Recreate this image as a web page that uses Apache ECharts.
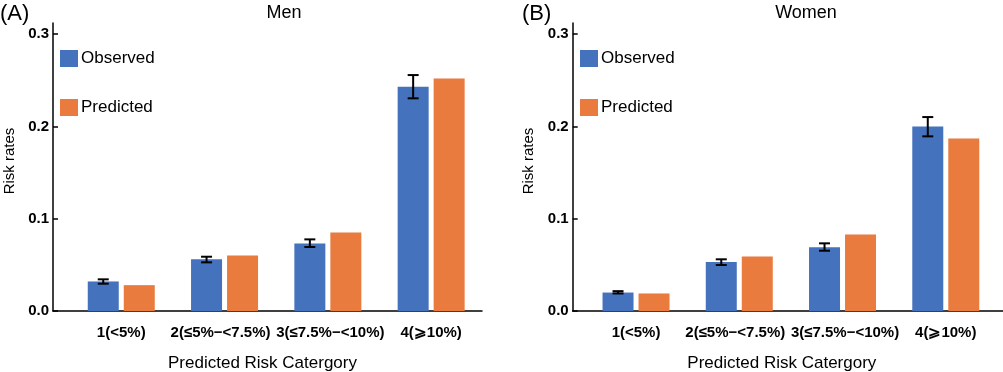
<!DOCTYPE html>
<html><head><meta charset="utf-8">
<script src="https://cdn.jsdelivr.net/npm/echarts@6/dist/echarts.min.js"></script>
<style>html,body{margin:0;padding:0;background:#fff}#c{width:1003px;height:372px}</style>
</head><body><div id="c"></div>
<script>
const categories = ['1(<5%)', '2(≤5%−<7.5%)', '3(≤7.5%−<10%)', '4(⩾10%)'];
const yTicks = [0, 0.1, 0.2, 0.3];
const menObserved = [0.032, 0.056, 0.073, 0.243];
const menPredicted = [0.028, 0.060, 0.085, 0.252];
const menObsLow = [0.0296, 0.0527, 0.0693, 0.2304];
const menObsHigh = [0.0343, 0.0588, 0.0776, 0.2556];
const womenObserved = [0.020, 0.053, 0.069, 0.200];
const womenPredicted = [0.019, 0.059, 0.083, 0.187];
const womenObsLow = [0.019, 0.0498, 0.0653, 0.1892];
const womenObsHigh = [0.0215, 0.0560, 0.0733, 0.2101];

const FONT = 'Liberation Sans, Arial, sans-serif';
const BLUE = '#4572BD', ORANGE = '#E97B3E';
const YMAX = 0.312;
const BAR_W = 31, BAR_GAP = 5;
const LABEL_PAD = [[0, 0, 0, 0], [0, 8, 0, 0], [0, 0, 0, 5], [0, 0, 0, 0]];

function errData(lo, hi) { return lo.map((v, i) => [i, v, hi[i]]); }
function errRender(params, api) {
  const i = api.value(0);
  const p1 = api.coord([i, api.value(1)]);
  const p2 = api.coord([i, api.value(2)]);
  const cx = p1[0] - (BAR_W + BAR_GAP) / 2;
  const hw = 5.5;
  const st = { stroke: '#000', lineWidth: 2 };
  return { type: 'group', children: [
    { type: 'line', shape: { x1: cx, y1: p1[1], x2: cx, y2: p2[1] }, style: st },
    { type: 'line', shape: { x1: cx - hw, y1: p1[1], x2: cx + hw, y2: p1[1] }, style: st },
    { type: 'line', shape: { x1: cx - hw, y1: p2[1], x2: cx + hw, y2: p2[1] }, style: st }
  ]};
}

function frameY(gi) {
  return { gridIndex: gi, type: 'value', min: 0, max: YMAX,
    name: 'Risk rates', nameLocation: 'middle', nameGap: 36,
    nameTextStyle: { fontFamily: FONT, fontSize: 15, color: '#000', padding: [0, 0, 0, 12] },
    axisLine: { show: true, lineStyle: { color: '#000', width: 1.5 } },
    axisTick: { show: true, inside: true, length: 5, customValues: yTicks, lineStyle: { color: '#000', width: 1.5 } },
    axisLabel: { customValues: yTicks, formatter: v => v.toFixed(1), margin: 4,
      fontFamily: FONT, fontSize: 15, fontWeight: 'bold', color: '#000' },
    splitLine: { show: false } };
}
function frameX(gi, pad) {
  return { gridIndex: gi, type: 'value', min: 0, max: 1,
    name: 'Predicted Risk Catergory', nameLocation: 'middle', nameGap: 44,
    nameTextStyle: { fontFamily: FONT, fontSize: 17, color: '#000', padding: pad },
    axisLine: { show: true, onZero: false, lineStyle: { color: '#000', width: 1.5 } },
    axisTick: { show: false }, axisLabel: { show: false }, splitLine: { show: false } };
}
function barX(gi) {
  return { gridIndex: gi, type: 'category',
    data: categories.map((c, i) => ({ value: c, textStyle: { padding: LABEL_PAD[i] } })),
    axisLine: { show: false }, axisTick: { show: false },
    axisLabel: { interval: 0, margin: 14, fontFamily: FONT, fontSize: 15, fontWeight: 'bold', color: '#000' } };
}
function barY(gi) {
  return { gridIndex: gi, type: 'value', min: 0, max: YMAX, show: false, splitLine: { show: false } };
}
function legend(left) {
  return { left: left, top: 50, padding: 0, orient: 'vertical', itemWidth: 18, itemHeight: 17, itemGap: 32,
    icon: 'rect', data: ['Observed', 'Predicted'],
    textStyle: { fontFamily: FONT, fontSize: 17, color: '#000', padding: [0, 0, 0, -2] } };
}
function grid(l, r) {
  return { left: l, right: r, top: 23, bottom: 61, outerBoundsMode: 'none', containLabel: false };
}

const option = {
  animation: false,
  backgroundColor: '#fff',
  title: [
    { text: '(A)', left: 0, top: 3, padding: 0, textStyle: { fontFamily: FONT, fontSize: 22, fontWeight: 'normal', color: '#000' } },
    { text: 'Men', left: 284, top: 4, padding: 0, textAlign: 'center', textStyle: { fontFamily: FONT, fontSize: 18, fontWeight: 'normal', color: '#000' } },
    { text: '(B)', left: 522, top: 3, padding: 0, textStyle: { fontFamily: FONT, fontSize: 22, fontWeight: 'normal', color: '#000' } },
    { text: 'Women', left: 806, top: 4, padding: 0, textAlign: 'center', textStyle: { fontFamily: FONT, fontSize: 18, fontWeight: 'normal', color: '#000' } }
  ],
  legend: [legend(60), legend(580)],
  grid: [grid(53, 521), grid(69.6, 520.2), grid(572.7, 0), grid(584.4, 5.6)],
  xAxis: [frameX(0, [0, 10, 0, 0]), barX(1), frameX(2, [0, 12, 0, 0]), barX(3)],
  yAxis: [frameY(0), barY(1), frameY(2), barY(3)],
  series: [
    { name: 'Observed', type: 'bar', xAxisIndex: 1, yAxisIndex: 1, data: menObserved, barWidth: BAR_W, barGap: (BAR_GAP / BAR_W * 100) + '%', itemStyle: { color: BLUE } },
    { name: 'Predicted', type: 'bar', xAxisIndex: 1, yAxisIndex: 1, data: menPredicted, barWidth: BAR_W, itemStyle: { color: ORANGE } },
    { name: 'Observed', type: 'custom', xAxisIndex: 1, yAxisIndex: 1, data: errData(menObsLow, menObsHigh), renderItem: errRender, encode: { x: 0, y: [1, 2] }, z: 5 },
    { name: 'Observed', type: 'bar', xAxisIndex: 3, yAxisIndex: 3, data: womenObserved, barWidth: BAR_W, barGap: (BAR_GAP / BAR_W * 100) + '%', itemStyle: { color: BLUE } },
    { name: 'Predicted', type: 'bar', xAxisIndex: 3, yAxisIndex: 3, data: womenPredicted, barWidth: BAR_W, itemStyle: { color: ORANGE } },
    { name: 'Observed', type: 'custom', xAxisIndex: 3, yAxisIndex: 3, data: errData(womenObsLow, womenObsHigh), renderItem: errRender, encode: { x: 0, y: [1, 2] }, z: 5 }
  ]
};
const chart = echarts.init(document.getElementById('c'), null, { renderer: 'canvas' });
chart.setOption(option);
</script>
</body></html>
